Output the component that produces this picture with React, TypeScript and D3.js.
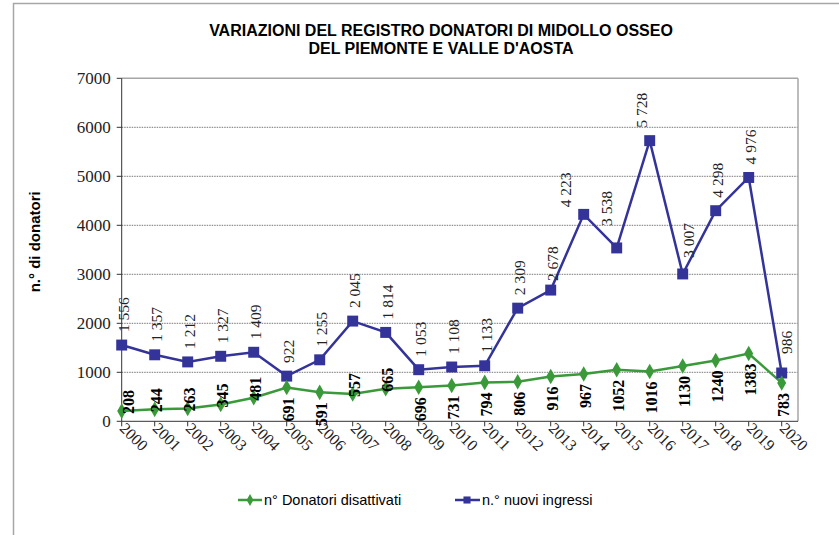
import { useEffect } from "react"
import { scaleLinear, scalePoint, line, symbol, symbolDiamond, symbolSquare } from "d3"

const YEARS = ["2000", "2001", "2002", "2003", "2004", "2005", "2006", "2007", "2008", "2009", "2010",
  "2011", "2012", "2013", "2014", "2015", "2016", "2017", "2018", "2019", "2020"]
const DISATTIVATI = [208, 244, 263, 345, 481, 691, 591, 557, 665, 696, 731, 794, 806, 916, 967,
  1052, 1016, 1130, 1240, 1383, 783]
const INGRESSI = [1556, 1357, 1212, 1327, 1409, 922, 1255, 2045, 1814, 1053, 1108, 1133, 2309,
  2678, 4223, 3538, 5728, 3007, 4298, 4976, 986]
const Y_TICKS = [0, 1000, 2000, 3000, 4000, 5000, 6000, 7000]

const TITLE = ["VARIAZIONI  DEL REGISTRO DONATORI DI MIDOLLO OSSEO", "DEL PIEMONTE E VALLE D'AOSTA"]
const Y_TITLE = "n.° di donatori"
const LEGEND = ["n° Donatori disattivati", "n.° nuovi ingressi"]

const GREEN = "#3a9a3a"
const BLUE = "#333399"

// label placement tweaks (layout only)
const GREEN_ABOVE = new Set(["2000", "2001", "2002", "2003", "2004", "2007", "2008"])
const BLUE_NUDGE: Record<string, [number, number]> = {
  "2013": [0, 4],
  "2014": [-20, 6],
  "2015": [-12, -9],
  "2016": [-10, 0],
  "2017": [4, -3],
  "2020": [3, -6],
}

const fmtSpace = (n: number) =>
  n >= 1000 ? `${Math.floor(n / 1000)} ${String(n % 1000).padStart(3, "0")}` : String(n)

const W = 839
const H = 535
const LEFT = 121.7
const RIGHT = 798
const TOP = 78.3
const BOTTOM = 421.3

export default function App() {
  useEffect(() => {
    document.body.style.margin = "0"
  }, [])

  const x = scalePoint<string>().domain(YEARS).range([LEFT, 781.7])
  const y = scaleLinear().domain([0, 7000]).range([BOTTOM, TOP])

  const mkLine = line<number>()
    .x((_, i) => x(YEARS[i])!)
    .y((d) => y(d))

  const diamond = symbol().type(symbolDiamond).size(70)()!
  const square = symbol().type(symbolSquare).size(120)()!
  const diamondSmall = symbol().type(symbolDiamond).size(40)()!
  const squareSmall = symbol().type(symbolSquare).size(50)()!

  const serif = "'Liberation Serif', 'Times New Roman', serif"
  const sans = "'Liberation Sans', Arial, sans-serif"

  return (
    <svg width={W} height={H} style={{ display: "block", background: "#fff" }}>
      {/* outer frame */}
      <rect x={13.5} y={3.5} width={W + 10} height={H + 10} fill="none" stroke="#a6a6a6" strokeWidth={1.5} />

      {/* title */}
      <text x={441} y={36} textAnchor="middle" fontFamily={sans} fontWeight="bold" fontSize={16} fill="#000">
        {TITLE[0]}
      </text>
      <text x={441} y={54} textAnchor="middle" fontFamily={sans} fontWeight="bold" fontSize={16} fill="#000">
        {TITLE[1]}
      </text>

      {/* grid */}
      {Y_TICKS.filter((t) => t > 0 && t < 7000).map((t) => (
        <line key={t} x1={LEFT} x2={RIGHT} y1={y(t)} y2={y(t)} stroke="#777" strokeWidth={1} strokeDasharray="1.5,1" />
      ))}
      <line x1={LEFT} x2={RIGHT} y1={TOP} y2={TOP} stroke="#a6a6a6" strokeWidth={1.5} />
      <line x1={RIGHT} x2={RIGHT} y1={TOP} y2={BOTTOM} stroke="#a6a6a6" strokeWidth={1.5} />

      {/* y axis */}
      <line x1={LEFT} x2={LEFT} y1={TOP} y2={BOTTOM} stroke="#333" strokeWidth={1} />
      {Y_TICKS.map((t) => (
        <g key={t}>
          <line x1={LEFT - 5} x2={LEFT} y1={y(t)} y2={y(t)} stroke="#333" />
          <text x={LEFT - 11} y={y(t)} dy="0.35em" textAnchor="end" fontFamily={serif} fontSize={17} fill="#222">
            {t}
          </text>
        </g>
      ))}
      <g transform={`translate(40,${(TOP + BOTTOM) / 2 - 8})`}>
        <text transform="rotate(-90)" textAnchor="middle" fontFamily={sans} fontWeight="bold" fontSize={15} fill="#000">
          {Y_TITLE}
        </text>
      </g>

      {/* x axis */}
      <line x1={LEFT} x2={RIGHT} y1={BOTTOM} y2={BOTTOM} stroke="#333" strokeWidth={1} />
      {YEARS.map((yr) => (
        <g key={yr}>
          <line x1={x(yr)} x2={x(yr)} y1={BOTTOM} y2={BOTTOM + 5} stroke="#333" />
          <g transform={`translate(${x(yr)! - 3},${BOTTOM + 8})`}>
            <text transform="rotate(45)" fontFamily={serif} fontSize={16} fill="#222">
              {yr}
            </text>
          </g>
        </g>
      ))}

      {/* series */}
      <path d={mkLine(INGRESSI)!} fill="none" stroke={BLUE} strokeWidth={2.5} />
      <path d={mkLine(DISATTIVATI)!} fill="none" stroke={GREEN} strokeWidth={2.5} />
      {INGRESSI.map((v, i) => (
        <path key={i} d={square} transform={`translate(${x(YEARS[i])},${y(v)})`} fill={BLUE} />
      ))}
      {DISATTIVATI.map((v, i) => (
        <path key={i} d={diamond} transform={`translate(${x(YEARS[i])},${y(v)})`} fill={GREEN} />
      ))}

      {/* labels: nuovi ingressi */}
      {INGRESSI.map((v, i) => {
        const yr = YEARS[i]
        const [dx, dy] = BLUE_NUDGE[yr] ?? [0, 0]
        return (
          <g key={yr} transform={`translate(${x(yr)! + 2 + dx},${y(v) - 13 + dy})`}>
            <text transform="rotate(-90)" dy="0.35em" fontFamily={serif} fontSize={15.5} fill="#222">
              {fmtSpace(v)}
            </text>
          </g>
        )
      })}

      {/* labels: disattivati */}
      {DISATTIVATI.map((v, i) => {
        const yr = YEARS[i]
        const above = GREEN_ABOVE.has(yr)
        const dxi = i === 0 ? 7 : 2
        return (
          <g key={yr} transform={`translate(${x(yr)! + dxi},${above ? y(v) + 3 : y(v) + 10})`}>
            <text
              transform="rotate(-90)"
              dy="0.35em"
              textAnchor={above ? "start" : "end"}
              fontFamily={serif}
              fontWeight="bold"
              fontSize={16}
              fill="#000"
            >
              {v}
            </text>
          </g>
        )
      })}

      {/* legend */}
      <g transform="translate(0,500)">
        <line x1={238} x2={262} stroke={GREEN} strokeWidth={2.5} />
        <path d={diamondSmall} transform="translate(250,0)" fill={GREEN} />
        <text x={264} dy="0.35em" fontFamily={sans} fontSize={14.5} fill="#000">
          {LEGEND[0]}
        </text>
        <line x1={455} x2={480} stroke={BLUE} strokeWidth={2.5} />
        <path d={squareSmall} transform="translate(467,0)" fill={BLUE} />
        <text x={482} dy="0.35em" fontFamily={sans} fontSize={14.5} fill="#000">
          {LEGEND[1]}
        </text>
      </g>
    </svg>
  )
}
